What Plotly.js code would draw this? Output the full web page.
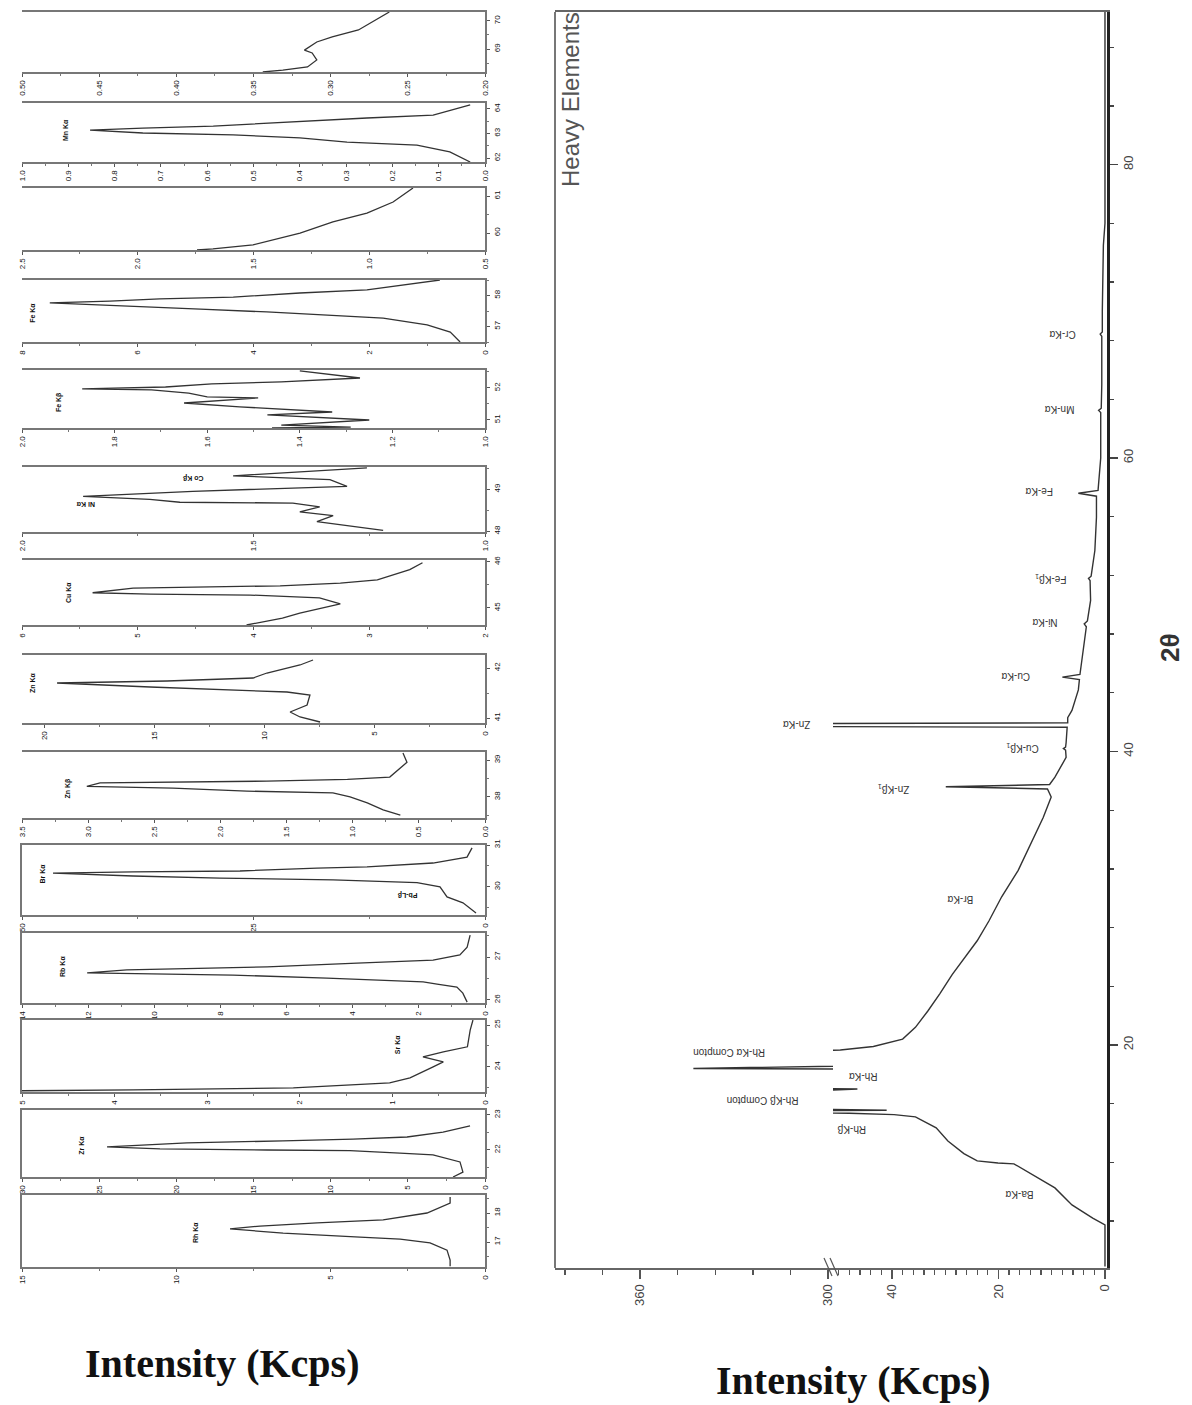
<!DOCTYPE html>
<html><head><meta charset="utf-8">
<script src="https://cdn.plot.ly/plotly-3.0.1.min.js"></script>
<style>html,body{margin:0;padding:0;background:#fff}#chart{width:1192px;height:1405px}</style>
</head><body><div id="chart"></div>
<script>
// ---------- main spectrum (2θ vs intensity, Kcps) ----------
const mainTheta = [4.9, 7.74, 8.2, 9.1, 10.26, 11.2, 11.9, 11.96, 12.1, 12.6, 13.46, 14.35, 15.1, 15.25, 15.35, 15.45, 15.55, 15.65, 16.2, 16.8, 17.0, 17.15, 18.2, 18.4, 18.6, 19.3, 19.66, 19.9, 20.4, 21.2, 22.3, 23.5, 24.8, 25.9, 27.1, 28.45, 29.6, 30.1, 31.9, 33.8, 35.5, 36.9, 37.45, 37.6, 37.75, 38.25, 39.6, 40.1, 40.2, 40.3, 40.6, 41.65, 41.8, 41.95, 42.3, 42.8, 44.2, 44.9, 45.07, 45.25, 46.4, 48.5, 48.7, 48.9, 50.3, 51.65, 51.8, 51.95, 53.7, 55.97, 57.4, 57.6, 57.8, 58.96, 60, 63.1, 63.25, 63.4, 65, 68.3, 68.45, 68.6, 70, 74.5, 76, 90.4];
const mainInt = [0, 0, 2.3, 6.2, 9.4, 13.9, 17.1, 20.1, 24.0, 26.5, 29.5, 31.7, 35.6, 39.6, 48, 120, 41, 60, 70, 60, 46.5, 60, 120, 343, 120, 80, 49.7, 43.5, 38.0, 35.6, 33.3, 31.0, 28.7, 26.4, 24.0, 21.8, 20.2, 19.4, 16.3, 13.9, 11.6, 10.1, 10.8, 29.9, 10.4, 9.4, 7.3, 7.4, 7.8, 7.4, 7.3, 7.1, 160, 7.0, 7.0, 6.2, 5.0, 4.8, 8.0, 4.7, 4.3, 3.5, 3.9, 3.3, 2.7, 2.8, 3.1, 2.6, 1.9, 1.6, 1.6, 5.0, 1.3, 1.1, 0.8, 0.8, 1.2, 0.7, 0.6, 0.6, 0.9, 0.5, 0.5, 0.3, 0, 0];

const peakNames = ["Ba-Kα", "Rh-Kβ", "Rh-Kβ Compton", "Rh-Kα", "Rh-Kα Compton", "Br-Kα", "Zn-Kβ<sub>1</sub>", "Cu-Kβ<sub>1</sub>", "Zn-Kα", "Cu-Kα", "Ni-Kα", "Fe-Kβ<sub>1</sub>", "Fe-Kα", "Mn-Kα", "Cr-Kα"];
const peakTheta = [9.8, 14.2, 16.2, 17.9, 19.45, 29.9, 37.4, 40.2, 41.8, 45.07, 48.75, 51.8, 57.67, 63.26, 68.37];
const peakInt = [16, 47.5, 321, 45.5, 331.6, 27.2, 39.6, 15.6, 310, 16.7, 11.3, 10.1, 12.4, 8.6, 8.1];

const mainIntTicksLow = [0, 20, 40];
const mainIntTicksHigh = [300, 360];
const mainThetaTicks = [20, 40, 60, 80];

// ---------- zoomed peak windows (top to bottom) ----------
const s1Theta = [70.32, 69.96, 69.68, 69.43, 69.25, 68.96, 68.86, 68.61, 68.36, 68.25, 68.18];
const s1Int = [0.262, 0.273, 0.282, 0.299, 0.309, 0.317, 0.312, 0.309, 0.315, 0.331, 0.344];
const s2Theta = [64.16, 63.75, 63.63, 63.43, 63.30, 63.22, 63.18, 63.14, 63.02, 62.94, 62.82, 62.65, 62.53, 62.25, 61.84];
const s2Int = [0.032, 0.112, 0.255, 0.449, 0.587, 0.739, 0.810, 0.853, 0.739, 0.544, 0.400, 0.298, 0.147, 0.076, 0.032];
const s3Theta = [61.22, 60.84, 60.54, 60.30, 60.00, 59.68, 59.57, 59.54];
const s3Int = [0.811, 0.897, 1.010, 1.157, 1.299, 1.502, 1.675, 1.744];
const s4Theta = [58.5, 58.18, 58.08, 57.95, 57.89, 57.82, 57.76, 57.66, 57.56, 57.47, 57.37, 57.27, 57.05, 56.82, 56.5];
const s4Int = [0.78, 2.04, 3.20, 4.35, 5.62, 6.48, 7.52, 6.08, 4.92, 3.77, 2.63, 1.76, 1.00, 0.60, 0.43];
const s5Theta = [52.53, 52.31, 52.19, 52.13, 52.03, 51.97, 51.94, 51.84, 51.72, 51.69, 51.53, 51.41, 51.25, 51.16, 51.0, 50.84, 50.78, 50.75];
const s5Int = [1.40, 1.27, 1.44, 1.59, 1.69, 1.87, 1.72, 1.64, 1.60, 1.49, 1.65, 1.53, 1.33, 1.47, 1.25, 1.44, 1.29, 1.46];
const s6Theta = [49.51, 49.42, 49.32, 49.23, 49.07, 48.95, 48.83, 48.76, 48.69, 48.67, 48.58, 48.46, 48.37, 48.23, 48.14, 48.02];
const s6Int = [1.255, 1.384, 1.544, 1.335, 1.298, 1.631, 1.868, 1.724, 1.659, 1.415, 1.357, 1.400, 1.328, 1.363, 1.298, 1.220];
const s7Theta = [45.98, 45.83, 45.61, 45.54, 45.48, 45.46, 45.43, 45.33, 45.30, 45.28, 45.22, 45.09, 44.98, 44.89, 44.78, 44.67, 44.63];
const s7Int = [2.54, 2.65, 2.93, 3.25, 3.77, 4.46, 5.04, 5.39, 4.89, 4.03, 3.43, 3.25, 3.43, 3.60, 3.75, 4.00, 4.06];
const s8Theta = [42.16, 42.06, 41.90, 41.80, 41.74, 41.70, 41.62, 41.58, 41.52, 41.46, 41.26, 41.12, 41.02, 40.92];
const s8Int = [7.80, 8.39, 9.89, 10.52, 14.42, 19.41, 15.19, 12.93, 8.98, 7.94, 8.07, 8.84, 8.39, 7.48];
const s9Theta = [39.19, 38.94, 38.54, 38.48, 38.43, 38.40, 38.38, 38.29, 38.24, 38.16, 38.11, 38.0, 37.84, 37.65, 37.51];
const s9Int = [0.62, 0.59, 0.72, 1.04, 1.65, 2.40, 2.91, 3.01, 2.36, 1.80, 1.15, 1.02, 0.89, 0.77, 0.64];
const s10Theta = [30.93, 30.71, 30.57, 30.48, 30.45, 30.38, 30.36, 30.33, 30.26, 30.21, 30.17, 30.10, 30.0, 29.76, 29.62, 29.38];
const s10Int = [1.40, 1.94, 5.62, 12.74, 18.14, 26.46, 38.01, 46.65, 38.01, 28.62, 16.41, 7.34, 4.86, 4.10, 2.38, 0.97];
const s11Theta = [27.51, 27.23, 27.05, 26.93, 26.86, 26.77, 26.74, 26.70, 26.63, 26.58, 26.51, 26.47, 26.42, 26.37, 26.30, 26.16, 25.95];
const s11Int = [0.45, 0.54, 0.76, 1.57, 3.87, 6.59, 8.32, 10.83, 12.03, 7.62, 4.78, 3.57, 1.87, 1.45, 0.85, 0.67, 0.54];
const s12Theta = [25.12, 24.88, 24.48, 24.36, 24.24, 24.12, 24.0, 23.74, 23.62, 23.55, 23.50, 23.45, 23.43];
const s12Int = [0.13, 0.16, 0.19, 0.45, 0.67, 0.45, 0.56, 0.81, 1.03, 1.64, 2.07, 3.80, 5.0];
const s13Theta = [22.69, 22.51, 22.37, 22.31, 22.26, 22.20, 22.09, 22.03, 22.0, 21.98, 21.91, 21.86, 21.66, 21.37, 21.23];
const s13Int = [0.97, 2.72, 5.05, 8.55, 13.09, 19.31, 24.49, 21.06, 14.13, 8.75, 5.51, 3.37, 1.62, 1.43, 2.07];
const s14Theta = [18.55, 18.34, 18.0, 17.76, 17.66, 17.55, 17.45, 17.31, 17.17, 17.10, 16.97, 16.72, 16.38, 16.17];
const s14Int = [1.13, 1.13, 1.88, 3.30, 5.44, 7.29, 8.26, 6.54, 4.05, 2.75, 1.78, 1.23, 1.13, 1.13];

const stripLabels = [[], ["Mn Kα"], [], ["Fe Kα"], ["Fe Kβ"], ["Ni Kα", "Co Kβ"], ["Cu Kα"], ["Zn Kα"], ["Zn Kβ"], ["Br Kα", "Pb-Lβ"], ["Rb Kα"], ["Sr Kα"], ["Zr Kα"], ["Rh Kα"]];
const stripLabelTheta = [[], [63.14], [], [57.44], [51.56], [48.65, 49.28], [45.33], [41.7], [38.24], [30.33, 29.81], [26.77], [24.52], [22.14], [17.34]];
const stripLabelInt = [[], [0.907], [], [7.81], [1.92], [1.864, 1.63], [5.6], [20.5], [3.15], [47.8, 8.4], [12.76], [0.95], [26.2], [9.4]];

// ---------- layout helpers ----------
const W = 1192, H = 1405;
const px = x => x / W, py = y => 1 - y / H;

const stripData = [[s1Theta, s1Int], [s2Theta, s2Int], [s3Theta, s3Int], [s4Theta, s4Int], [s5Theta, s5Int], [s6Theta, s6Int], [s7Theta, s7Int], [s8Theta, s8Int], [s9Theta, s9Int], [s10Theta, s10Int], [s11Theta, s11Int], [s12Theta, s12Int], [s13Theta, s13Int], [s14Theta, s14Int]];
const stripCfg = [
  {t: 12, b: 72, xr: [0.5, 0.2], dt: 0.05, fmt: '.2f', yr: [68.18, 70.32], yt: [69, 70], box: false, rot: [-90]},
  {t: 103, b: 162, xr: [1.0, 0], dt: 0.1, fmt: '.1f', yr: [61.84, 64.24], yt: [62, 63, 64], box: false, rot: [-90]},
  {t: 188, b: 250, xr: [2.5, 0.5], dt: 0.5, fmt: '.1f', yr: [59.54, 61.22], yt: [60, 61], box: false, rot: [-90]},
  {t: 280, b: 342, xr: [8, 0], dt: 2, fmt: '', yr: [56.5, 58.5], yt: [57, 58], box: false, rot: [-90]},
  {t: 370, b: 428, xr: [2.0, 1.0], dt: 0.2, fmt: '.1f', yr: [50.75, 52.56], yt: [51, 52], box: false, rot: [-90]},
  {t: 467, b: 532, xr: [2.0, 1.0], dt: 0.5, fmt: '.1f', yr: [47.98, 49.53], yt: [48, 49], box: false, rot: [180, 180]},
  {t: 560, b: 625, xr: [6, 2], dt: 1, fmt: '', yr: [44.63, 46.04], yt: [45, 46], box: false, rot: [-90]},
  {t: 655, b: 723, xr: [21, 0], dt: 5, fmt: '', yr: [40.9, 42.26], yt: [41, 42], box: false, rot: [-90]},
  {t: 752, b: 818, xr: [3.5, 0], dt: 0.5, fmt: '.1f', yr: [37.43, 39.22], yt: [38, 39], box: false, rot: [-90]},
  {t: 845, b: 915, xr: [50, 0], dt: 25, fmt: '', yr: [29.33, 31.0], yt: [30, 31], box: true, rot: [-90, 180]},
  {t: 933, b: 1003, xr: [14, 0], dt: 2, fmt: '', yr: [25.93, 27.56], yt: [26, 27], box: true, rot: [-90]},
  {t: 1020, b: 1092, xr: [5, 0], dt: 1, fmt: '', yr: [23.40, 25.12], yt: [24, 25], box: true, rot: [-90]},
  {t: 1110, b: 1177, xr: [30, 0], dt: 5, fmt: '', yr: [21.23, 23.14], yt: [22, 23], box: true, rot: [-90]},
  {t: 1195, b: 1267, xr: [15, 0], dt: 5, fmt: '', yr: [16.14, 18.62], yt: [17, 18], box: true, rot: [-90]}
];

const lineCol = '#333';
const traces = [];
const annotations = [];
const layout = {
  width: W, height: H, margin: {l: 0, r: 0, t: 0, b: 0},
  paper_bgcolor: '#fff', plot_bgcolor: '#fff', showlegend: false,
  font: {family: 'Arial, Liberation Sans, sans-serif', color: '#333'}
};

// main plot: two x segments (axis break) sharing one 2θ axis
traces.push({x: mainInt, y: mainTheta, xaxis: 'x', yaxis: 'y', type: 'scatter', mode: 'lines', line: {color: lineCol, width: 1.4}, hoverinfo: 'skip'});
traces.push({x: mainInt, y: mainTheta, xaxis: 'x2', yaxis: 'y', type: 'scatter', mode: 'lines', line: {color: lineCol, width: 1.4}, hoverinfo: 'skip'});

const mainTickFont = {size: 13, family: 'Arial, Liberation Sans, sans-serif', color: '#444'};
layout.xaxis = {domain: [px(833), px(1107)], anchor: 'y', range: [51.08, -0.38], tickvals: mainIntTicksLow,
  ticks: 'outside', ticklen: 9, tickwidth: 1.5, tickcolor: '#555', tickangle: -90, tickfont: mainTickFont,
  minor: {ticks: 'outside', ticklen: 5, tick0: 0, dtick: 2, tickcolor: '#555', tickwidth: 1.3},
  showline: true, linecolor: '#666', linewidth: 2, mirror: true, showgrid: false, zeroline: false};
layout.xaxis2 = {domain: [px(555), px(833)], anchor: 'y', range: [387.2, 298.4], tickvals: mainIntTicksHigh,
  ticks: 'outside', ticklen: 9, tickwidth: 1.5, tickcolor: '#555', tickangle: -90, tickfont: mainTickFont,
  minor: {ticks: 'outside', ticklen: 5, tick0: 300, dtick: 12, tickcolor: '#555', tickwidth: 1.3},
  showline: true, linecolor: '#666', linewidth: 2, mirror: true, showgrid: false, zeroline: false};
layout.yaxis = {domain: [py(1268), py(12)], anchor: 'x', side: 'right', range: [4.8, 90.4], tickvals: mainThetaTicks,
  ticks: 'outside', ticklen: 8, tickwidth: 1.5, tickcolor: '#444', tickangle: -90, tickfont: mainTickFont,
  minor: {ticks: 'outside', ticklen: 4, tick0: 0, dtick: 4, tickcolor: '#444', tickwidth: 1.3},
  showline: true, linecolor: '#222', linewidth: 2.5, showgrid: false, zeroline: false};

peakNames.forEach((n, i) => {
  const hi = peakInt[i] > 100;
  annotations.push({xref: hi ? 'x2' : 'x', yref: 'y', x: peakInt[i], y: peakTheta[i], text: n, showarrow: false,
    xanchor: 'center', yanchor: 'middle',
    textangle: 180, font: {size: 10, family: 'Arial, Liberation Sans, sans-serif', color: '#333'}});
});

// strips
stripCfg.forEach((c, i) => {
  const xn = i + 3, yn = i + 2;
  const [th, it] = stripData[i];
  traces.push({x: it, y: th, xaxis: 'x' + xn, yaxis: 'y' + yn, type: 'scatter', mode: 'lines',
    line: {color: lineCol, width: 1.3}, hoverinfo: 'skip'});
  const tf = {size: 8, family: 'Arial, Liberation Sans, sans-serif', color: '#111'};
  layout['xaxis' + xn] = {domain: [px(22), px(485)], anchor: 'y' + yn, range: c.xr, tick0: 0, dtick: c.dt,
    tickformat: c.fmt, ticks: 'outside', ticklen: 3, tickcolor: '#555', tickangle: -90, tickfont: tf,
    minor: {ticks: 'outside', ticklen: 2, dtick: c.dt / 2, tick0: 0, tickcolor: '#777'},
    showline: true, linecolor: '#777', linewidth: 2, mirror: true, showgrid: false, zeroline: false};
  layout['yaxis' + yn] = {domain: [py(c.b), py(c.t)], anchor: 'x' + xn, side: 'right', range: c.yr,
    tickvals: c.yt, ticks: 'outside', ticklen: 3, tickcolor: '#555', tickangle: -90, tickfont: tf,
    minor: {ticks: 'outside', ticklen: 2, dtick: 0.5, tick0: 0, tickcolor: '#777'},
    showline: true, linecolor: '#777', linewidth: 2, mirror: c.box, showgrid: false, zeroline: false};
  stripLabels[i].forEach((lab, j) => {
    annotations.push({xref: 'x' + xn, yref: 'y' + yn, x: stripLabelInt[i][j], y: stripLabelTheta[i][j], text: '<b>' + lab + '</b>',
      showarrow: false, xanchor: 'center', yanchor: 'middle', textangle: c.rot[j],
      font: {size: 7, family: 'Arial, Liberation Sans, sans-serif', color: '#111'}});
  });
});

// titles / decorations
annotations.push({xref: 'paper', yref: 'paper', x: px(1170), y: py(648), text: '<b>2θ</b>', showarrow: false, textangle: -90,
  xanchor: 'center', yanchor: 'middle', font: {size: 26, family: 'Arial, Liberation Sans, sans-serif', color: '#333'}});
annotations.push({xref: 'paper', yref: 'paper', x: px(571), y: py(100), text: 'Heavy Elements', showarrow: false, textangle: -90,
  xanchor: 'center', yanchor: 'middle', font: {size: 24, family: 'Arial, Liberation Sans, sans-serif', color: '#555'}});
annotations.push({xref: 'paper', yref: 'paper', x: px(853), y: py(1380), text: '<b>Intensity (Kcps)</b>', showarrow: false,
  xanchor: 'center', yanchor: 'middle', font: {size: 40, family: 'Liberation Serif, Times New Roman, serif', color: '#111'}});
annotations.push({xref: 'paper', yref: 'paper', x: px(222), y: py(1363), text: '<b>Intensity (Kcps)</b>', showarrow: false,
  xanchor: 'center', yanchor: 'middle', font: {size: 40, family: 'Liberation Serif, Times New Roman, serif', color: '#111'}});
layout.annotations = annotations;

layout.shapes = [
  {type: 'line', xref: 'paper', yref: 'paper', x0: px(555), x1: px(555), y0: py(12), y1: py(1268), line: {color: '#777', width: 2}},
  {type: 'line', xref: 'paper', yref: 'paper', x0: px(824), x1: px(832), y0: py(1258), y1: py(1276), line: {color: '#555', width: 1.2}},
  {type: 'line', xref: 'paper', yref: 'paper', x0: px(830), x1: px(838), y0: py(1258), y1: py(1276), line: {color: '#555', width: 1.2}}
];

Plotly.newPlot('chart', traces, layout, {displayModeBar: false, staticPlot: true});
</script>
</body></html>
